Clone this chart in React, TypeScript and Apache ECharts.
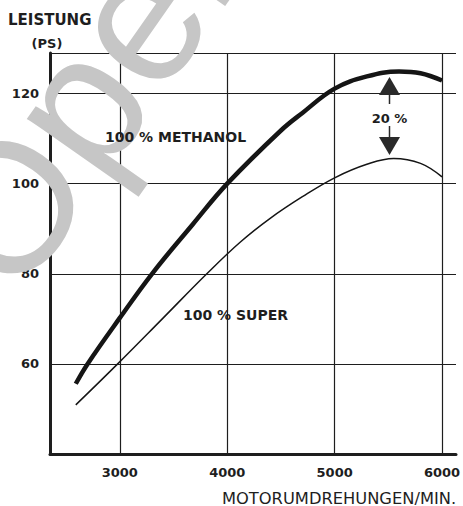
import React, { useEffect, useRef } from "react";
import * as echarts from "echarts";

// Axis tick values
const xTickValues = [3000, 4000, 5000, 6000];
const yTickValues = [60, 80, 100, 120];

// 100 % METHANOL curve (rpm -> PS)
const methanolRpm = [2590, 2700, 3000, 3300, 3680, 4000, 4500, 4700, 5000, 5300, 5600, 5800, 6000];
const methanolPs = [55.6, 60, 70.2, 80, 91, 100, 111.8, 115.7, 121.1, 123.8, 124.9, 124.5, 122.9];

// 100 % SUPER curve (rpm -> PS)
const superRpm = [2590, 2980, 3400, 3810, 4120, 4400, 4700, 5000, 5300, 5550, 5800, 6000];
const superPs = [50.9, 60, 70.1, 80, 87, 92.3, 97.1, 101.3, 104.3, 105.6, 104.5, 101.5];

// Texts
const yTitle = "LEISTUNG";
const yUnit = "(PS)";
const xTitle = "MOTORUMDREHUNGEN/MIN.";
const methanolLabel = "100 % METHANOL";
const superLabel = "100 % SUPER";
const diffLabel = "20 %";
const watermark = "Opel";

const INK = "#1e1e1e";
const NUM_FONT = "DejaVu Sans";

export default function App() {
  const ref = useRef<HTMLDivElement>(null);

  useEffect(() => {
    if (!ref.current) return;
    const chart = echarts.init(ref.current, undefined, { renderer: "svg" });

    const methanolData = methanolRpm.map((r, i) => [r, methanolPs[i]]);
    const superData = superRpm.map((r, i) => [r, superPs[i]]);

    const txt = (text: string, x: number, y: number, size: number, weight: string, align = "left", family = NUM_FONT) => ({
      type: "text",
      x,
      y,
      z: 150,
      style: {
        text,
        fill: INK,
        fontSize: size,
        fontWeight: weight,
        fontFamily: family,
        align,
        verticalAlign: "middle",
        textAlign: align,
        textVerticalAlign: "middle",
      },
    });

    chart.setOption({
      animation: false,
      backgroundColor: "#ffffff",
      grid: { left: 50, top: 53, width: 406, height: 401, containLabel: false, outerBoundsMode: "none" },
      xAxis: {
        type: "value",
        min: 2350,
        max: 6130,
        axisLine: { show: true, lineStyle: { color: INK, width: 3 } },
        axisTick: { show: false },
        splitLine: { show: false },
        axisLabel: {
          customValues: xTickValues,
          color: INK,
          fontSize: 13,
          fontWeight: "bold",
          fontFamily: NUM_FONT,
          margin: 12,
          formatter: (v: number) => String(v),
        },
      },
      yAxis: {
        type: "value",
        min: 40,
        max: 129,
        interval: 20,
        axisLine: { show: true, onZero: false, lineStyle: { color: INK, width: 3 } },
        axisTick: { show: false },
        splitLine: { show: true, lineStyle: { color: INK, width: 1.2 } },
        axisLabel: {
          color: INK,
          fontSize: 13,
          fontWeight: "bold",
          fontFamily: NUM_FONT,
          margin: 11,
          formatter: (v: number) => (yTickValues.includes(v) ? String(v) : ""),
        },
      },
      series: [
        {
          type: "line",
          name: "grid",
          data: [],
          silent: true,
          markLine: {
            silent: true,
            symbol: "none",
            label: { show: false },
            lineStyle: { color: INK, width: 1.2, type: "solid" },
            data: xTickValues.map((v) => ({ xAxis: v })),
          },
        },
        {
          type: "line",
          name: methanolLabel,
          data: methanolData,
          smooth: 0.4,
          showSymbol: false,
          lineStyle: { color: "#151515", width: 4.5 },
          z: 5,
        },
        {
          type: "line",
          name: superLabel,
          data: superData,
          smooth: 0.4,
          showSymbol: false,
          lineStyle: { color: "#151515", width: 1.5 },
          z: 5,
        },
      ],
      graphic: [
        {
          type: "text",
          x: -35,
          y: 266,
          rotation: (55 * Math.PI) / 180,
          z: 100,
          style: {
            text: watermark,
            fill: "#c6c6c6",
            fontSize: 185,
            fontFamily: "Liberation Sans",
            align: "left",
            verticalAlign: "middle",
            textAlign: "left",
            textVerticalAlign: "middle",
          },
        },
        txt(yTitle, 8, 20, 15, "bold"),
        txt(yUnit, 47, 43, 13, "bold", "center"),
        txt(xTitle, 222, 498, 16.3, "normal"),
        txt(methanolLabel, 105, 137, 14, "bold"),
        txt(superLabel, 183, 315, 14, "bold"),
        txt(diffLabel, 389.5, 118, 13, "bold", "center"),
        {
          type: "polygon",
          z: 150,
          shape: { points: [[379, 95], [400, 95], [389.5, 77]] },
          style: { fill: "#2a2a2a" },
        },
        {
          type: "line",
          z: 150,
          shape: { x1: 389.5, y1: 95, x2: 389.5, y2: 104 },
          style: { stroke: "#2a2a2a", lineWidth: 1.5 },
        },
        {
          type: "line",
          z: 150,
          shape: { x1: 389.5, y1: 126, x2: 389.5, y2: 137 },
          style: { stroke: "#2a2a2a", lineWidth: 1.5 },
        },
        {
          type: "polygon",
          z: 150,
          shape: { points: [[379, 137], [400, 137], [389.5, 155]] },
          style: { fill: "#2a2a2a" },
        },
      ],
    });

    return () => chart.dispose();
  }, []);

  return (
    <div
      ref={ref}
      style={{ position: "fixed", left: 0, top: 0, width: 463, height: 506, background: "#fff" }}
    />
  );
}
